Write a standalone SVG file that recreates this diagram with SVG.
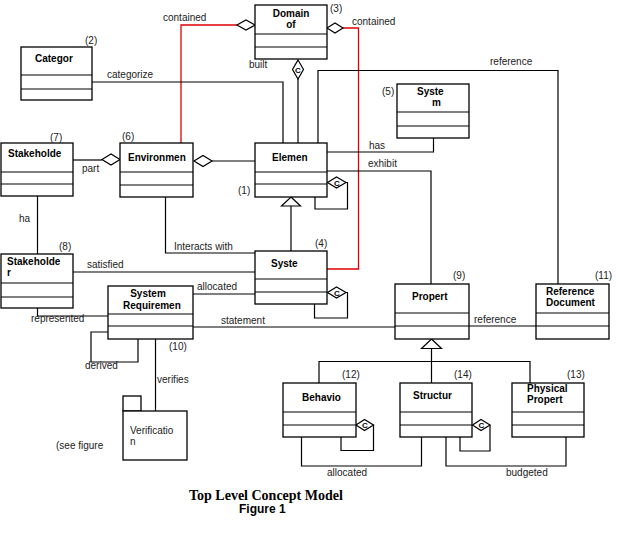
<svg xmlns="http://www.w3.org/2000/svg" width="619" height="541" viewBox="0 0 619 541">
  <style>
    .box { fill: #fff; stroke: #000; stroke-width: 1.3; }
    .sep { stroke: #000; stroke-width: 1.2; }
    .ln { fill: none; stroke: #000; stroke-width: 1.2; }
    .red { fill: none; stroke: #e00000; stroke-width: 1.3; }
    .dia { fill: #fff; stroke: #000; stroke-width: 1.2; }
    .t { font-family: "Liberation Sans", Arial, sans-serif; font-size: 10px; font-weight: bold; fill: #000; }
    .lbl { font-family: "Liberation Sans", Arial, sans-serif; font-size: 10px; fill: #222; }
    .c { font-family: "Liberation Sans", Arial, sans-serif; font-size: 8px; font-weight: bold; fill: #000; text-anchor: middle; }
    .title { font-family: "Liberation Serif", "Times New Roman", serif; font-size: 14px; font-weight: bold; fill: #000; }
    .fig { font-family: "Liberation Sans", Arial, sans-serif; font-size: 12px; font-weight: bold; fill: #000; }
  </style>

  <!-- connectors -->
  <g id="connectors">
    <!-- containment (red) -->
    <polyline class="red" points="237,25 181,25 181,143"/>
    <polygon class="dia" points="255,25 246,20 237,25 246,30"/>
    <polyline class="red" points="343,28 358.5,28 358.5,269 327,269"/>
    <polygon class="dia" points="327,28 335,23 343,28 335,33"/>
    <text class="lbl" x="163" y="21">contained</text>
    <text class="lbl" x="352" y="25">contained</text>

    <!-- built -->
    <line class="ln" x1="298" y1="79" x2="298" y2="143"/>
    <polygon class="dia" points="298,60 303.5,69.5 298,79 292.5,69.5"/>
    <text class="c" x="298" y="72.5">C</text>
    <text class="lbl" x="249" y="68">built</text>

    <!-- categorize -->
    <polyline class="ln" points="92,82 283,82 283,143"/>
    <text class="lbl" x="107" y="78">categorize</text>

    <!-- reference (top) -->
    <polyline class="ln" points="318,143 318,70.5 558,70.5 558,284"/>
    <text class="lbl" x="490" y="65">reference</text>

    <!-- environment - element -->
    <line class="ln" x1="212" y1="161" x2="255" y2="161"/>
    <polygon class="dia" points="194,161 203,155.5 212,161 203,166.5"/>

    <!-- part -->
    <line class="ln" x1="73" y1="160" x2="102" y2="160"/>
    <polygon class="dia" points="102,159.5 111,154 120,159.5 111,165"/>
    <text class="lbl" x="82" y="172">part</text>

    <!-- has -->
    <polyline class="ln" points="327,152 433.5,152 433.5,138"/>
    <text class="lbl" x="369" y="149">has</text>

    <!-- exhibit -->
    <polyline class="ln" points="327,171 431,171 431,284"/>
    <text class="lbl" x="368" y="167">exhibit</text>

    <!-- element self composition -->
    <polyline class="ln" points="346,182.5 347.5,182.5 347.5,209 315,209 315,197"/>
    <polygon class="dia" points="327.5,182.5 336.5,177 346,182.5 336.5,188"/>
    <text class="c" x="337" y="185.5">C</text>

    <!-- element generalization -->
    <line class="ln" x1="291" y1="206" x2="291" y2="251"/>
    <polygon class="dia" points="291,197 300.5,206 281.5,206"/>

    <!-- ha -->
    <line class="ln" x1="37.5" y1="196" x2="37.5" y2="254"/>
    <text class="lbl" x="19" y="222">ha</text>

    <!-- interacts with -->
    <polyline class="ln" points="165.5,197 165.5,253 255,253"/>
    <text class="lbl" x="174" y="250">Interacts with</text>

    <!-- satisfied -->
    <line class="ln" x1="73" y1="272" x2="255" y2="272"/>
    <text class="lbl" x="87" y="268">satisfied</text>

    <!-- allocated -->
    <line class="ln" x1="193" y1="294" x2="255" y2="294"/>
    <text class="lbl" x="197" y="290">allocated</text>

    <!-- system self composition -->
    <polyline class="ln" points="346,292.5 347.5,292.5 347.5,318 314.5,318 314.5,304"/>
    <polygon class="dia" points="327.5,292.5 336.5,287 346,292.5 336.5,298"/>
    <text class="c" x="337" y="295.5">C</text>

    <!-- statement -->
    <line class="ln" x1="193" y1="327" x2="395" y2="327"/>
    <text class="lbl" x="221" y="324">statement</text>

    <!-- represented -->
    <polyline class="ln" points="37.5,308 37.5,316 108,316"/>
    <text class="lbl" x="31" y="322">represented</text>

    <!-- derived -->
    <polyline class="ln" points="108,332 91,332 91,362 138,362 138,339"/>
    <text class="lbl" x="85" y="369">derived</text>

    <!-- verifies -->
    <line class="ln" x1="155.5" y1="339" x2="155.5" y2="411"/>
    <text class="lbl" x="157" y="383">verifies</text>

    <!-- reference (lower) -->
    <line class="ln" x1="469" y1="326" x2="536" y2="326"/>
    <text class="lbl" x="474" y="323">reference</text>

    <!-- property generalization -->
    <line class="ln" x1="431.5" y1="348.5" x2="431.5" y2="383"/>
    <polyline class="ln" points="319,383 319,361.5 530,361.5 530,383"/>
    <polygon class="dia" points="431.5,339 441.5,348.5 421.5,348.5"/>

    <!-- behavior self composition -->
    <polyline class="ln" points="373,425 373.5,425 373.5,450.5 341,450.5 341,437"/>
    <polygon class="dia" points="356,425 364.5,419.5 373.5,425 364.5,430.5"/>
    <text class="c" x="365" y="428">C</text>

    <!-- structure self composition -->
    <polyline class="ln" points="490,425 490,451 460,451 460,437"/>
    <polygon class="dia" points="472.5,425 481,419.5 490,425 481,430.5"/>
    <text class="c" x="481.5" y="428">C</text>

    <!-- allocated (bottom) -->
    <polyline class="ln" points="301.5,437 301.5,466 421.5,466 421.5,437"/>
    <text class="lbl" x="327" y="476">allocated</text>

    <!-- budgeted -->
    <polyline class="ln" points="446,437 446,466 566,466 566,437"/>
    <text class="lbl" x="506" y="476">budgeted</text>
  </g>

  <!-- classes -->
  <g id="domain">
    <rect class="box" x="255" y="5" width="72" height="54"/>
    <line class="sep" x1="255" y1="34" x2="327" y2="34"/>
    <line class="sep" x1="255" y1="47" x2="327" y2="47"/>
    <text class="t" x="291" y="17" text-anchor="middle">Domain</text>
    <text class="t" x="291" y="28" text-anchor="middle">of</text>
    <text class="lbl" x="330" y="12">(3)</text>
  </g>

  <g id="category">
    <rect class="box" x="21" y="47" width="71" height="53"/>
    <line class="sep" x1="21" y1="75" x2="92" y2="75"/>
    <line class="sep" x1="21" y1="89" x2="92" y2="89"/>
    <text class="t" x="35" y="62">Categor</text>
    <text class="lbl" x="85" y="44">(2)</text>
  </g>

  <g id="system-of-interest">
    <rect class="box" x="397" y="84" width="72" height="54"/>
    <line class="sep" x1="397" y1="112" x2="469" y2="112"/>
    <line class="sep" x1="397" y1="126" x2="469" y2="126"/>
    <text class="t" x="417" y="95">Syste</text>
    <text class="t" x="432" y="106">m</text>
    <text class="lbl" x="382" y="95">(5)</text>
  </g>

  <g id="stakeholder">
    <rect class="box" x="1" y="143" width="72" height="53"/>
    <line class="sep" x1="1" y1="172" x2="73" y2="172"/>
    <line class="sep" x1="1" y1="184" x2="73" y2="184"/>
    <text class="t" x="8" y="157">Stakeholde</text>
    <text class="lbl" x="50" y="141">(7)</text>
  </g>

  <g id="environment">
    <rect class="box" x="120" y="143" width="73" height="54"/>
    <line class="sep" x1="120" y1="172" x2="193" y2="172"/>
    <line class="sep" x1="120" y1="185" x2="193" y2="185"/>
    <text class="t" x="128" y="161">Environmen</text>
    <text class="lbl" x="122" y="140">(6)</text>
  </g>

  <g id="element">
    <rect class="box" x="255" y="143" width="72" height="54"/>
    <line class="sep" x1="255" y1="172" x2="327" y2="172"/>
    <line class="sep" x1="255" y1="184" x2="327" y2="184"/>
    <text class="t" x="272" y="161">Elemen</text>
    <text class="lbl" x="238" y="194">(1)</text>
  </g>

  <g id="stakeholder-requirement">
    <rect class="box" x="1" y="254" width="72" height="54"/>
    <line class="sep" x1="1" y1="283" x2="73" y2="283"/>
    <line class="sep" x1="1" y1="297" x2="73" y2="297"/>
    <text class="t" x="7" y="265">Stakeholde</text>
    <text class="t" x="7" y="276">r</text>
    <text class="lbl" x="59" y="250">(8)</text>
  </g>

  <g id="system">
    <rect class="box" x="255" y="251" width="72" height="53"/>
    <line class="sep" x1="255" y1="279" x2="327" y2="279"/>
    <line class="sep" x1="255" y1="292" x2="327" y2="292"/>
    <text class="t" x="271" y="267">Syste</text>
    <text class="lbl" x="315" y="247">(4)</text>
  </g>

  <g id="system-requirement">
    <rect class="box" x="108" y="286" width="85" height="53"/>
    <line class="sep" x1="108" y1="314" x2="193" y2="314"/>
    <line class="sep" x1="108" y1="326" x2="193" y2="326"/>
    <text class="t" x="148" y="297" text-anchor="middle">System</text>
    <text class="t" x="123" y="309">Requiremen</text>
    <text class="lbl" x="169" y="350">(10)</text>
  </g>

  <g id="property">
    <rect class="box" x="395" y="284" width="74" height="55"/>
    <line class="sep" x1="395" y1="313" x2="469" y2="313"/>
    <line class="sep" x1="395" y1="326" x2="469" y2="326"/>
    <text class="t" x="412" y="300">Propert</text>
    <text class="lbl" x="453" y="279">(9)</text>
  </g>

  <g id="reference-document">
    <rect class="box" x="536" y="284" width="73" height="55"/>
    <line class="sep" x1="536" y1="313" x2="609" y2="313"/>
    <line class="sep" x1="536" y1="326" x2="609" y2="326"/>
    <text class="t" x="546" y="295">Reference</text>
    <text class="t" x="546" y="306">Document</text>
    <text class="lbl" x="595" y="279">(11)</text>
  </g>

  <g id="behavior">
    <rect class="box" x="283" y="383" width="73" height="54"/>
    <line class="sep" x1="283" y1="412" x2="356" y2="412"/>
    <line class="sep" x1="283" y1="425" x2="356" y2="425"/>
    <text class="t" x="302" y="401">Behavio</text>
    <text class="lbl" x="342" y="378">(12)</text>
  </g>

  <g id="structure">
    <rect class="box" x="400" y="383" width="72" height="54"/>
    <line class="sep" x1="400" y1="412" x2="472" y2="412"/>
    <line class="sep" x1="400" y1="425" x2="472" y2="425"/>
    <text class="t" x="413" y="399">Structur</text>
    <text class="lbl" x="454" y="378">(14)</text>
  </g>

  <g id="physical-property">
    <rect class="box" x="512" y="383" width="72" height="54"/>
    <line class="sep" x1="512" y1="412" x2="584" y2="412"/>
    <line class="sep" x1="512" y1="425" x2="584" y2="425"/>
    <text class="t" x="527" y="392">Physical</text>
    <text class="t" x="527" y="403">Propert</text>
    <text class="lbl" x="567" y="378">(13)</text>
  </g>

  <!-- verification package -->
  <g id="verification">
    <rect class="box" x="123" y="396" width="18" height="15"/>
    <rect class="box" x="123" y="411" width="64" height="49"/>
    <text class="lbl" x="130" y="434">Verificatio</text>
    <text class="lbl" x="130" y="445">n</text>
    <text class="lbl" x="56" y="449">(see figure</text>
  </g>

  <!-- caption -->
  <g id="caption">
    <text class="title" x="189" y="500">Top Level Concept Model</text>
    <text class="fig" x="239" y="513">Figure 1</text>
  </g>
</svg>
